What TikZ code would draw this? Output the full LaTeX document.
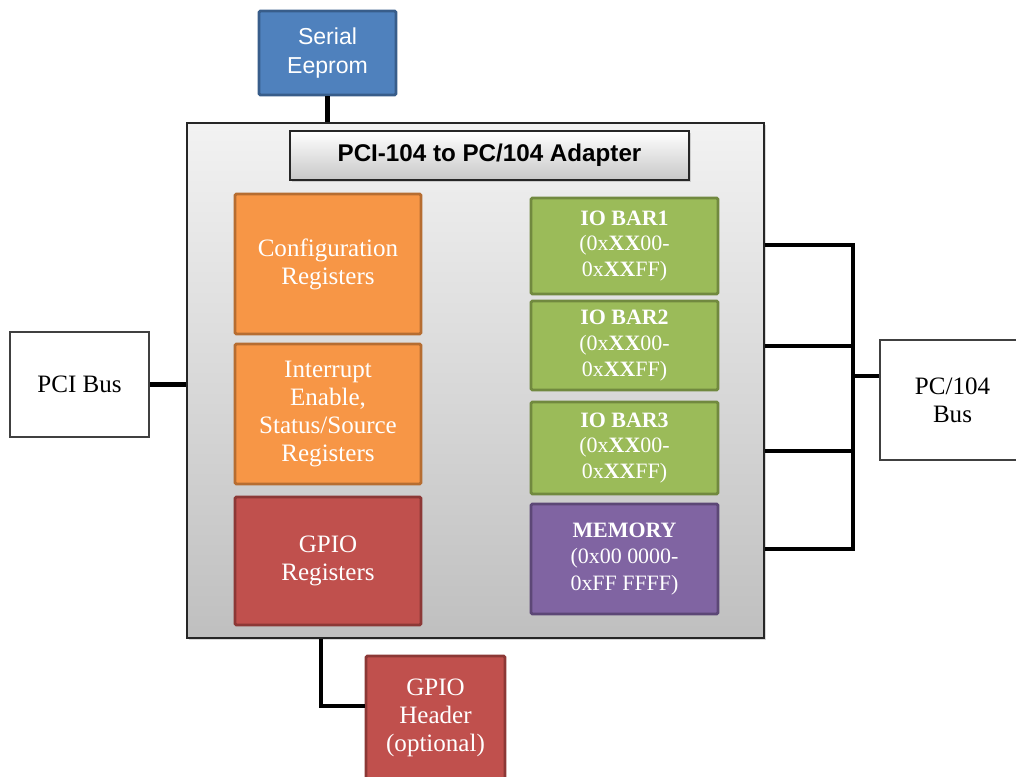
\documentclass[tikz,border=0pt]{standalone}
\usepackage{fontspec}
\setmainfont{Liberation Serif}
\setsansfont{Liberation Sans}
\usetikzlibrary{shadows}
\definecolor{eepromblue}{HTML}{4F81BD}
\definecolor{eepromline}{HTML}{385D8A}
\definecolor{regorange}{HTML}{F79646}
\definecolor{regorangeline}{HTML}{B66D31}
\definecolor{gpiored}{HTML}{C0504D}
\definecolor{gpioredline}{HTML}{8C3836}
\definecolor{bargreen}{HTML}{9BBB59}
\definecolor{bargreenline}{HTML}{71893F}
\definecolor{mempurple}{HTML}{8064A2}
\definecolor{mempurpleline}{HTML}{5C4776}
\definecolor{busline}{HTML}{404040}
\begin{document}
\begin{tikzpicture}[x=0.025cm,y=-0.025cm,
  block/.style={draw,line width=2pt,rounded corners=1pt,text=white,align=center,
    font=\fontsize{17.8}{20}\selectfont},
  orangebox/.style={block,fill=regorange,draw=regorangeline,minimum width=4.65cm},
  redbox/.style={block,fill=gpiored,draw=gpioredline,minimum width=4.65cm},
  greenbox/.style={block,fill=bargreen,draw=bargreenline,minimum width=4.675cm,
    font=\fontsize{15.6}{18.2}\selectfont},
  purplebox/.style={block,fill=mempurple,draw=mempurpleline,minimum width=4.675cm,
    font=\fontsize{15.6}{18.8}\selectfont},
  busbox/.style={draw=busline,line width=2pt,fill=white,align=center,
    font=\fontsize{17.8}{20}\selectfont},
  wire/.style={line width=3.5pt}]
\useasboundingbox (0,0) rectangle (1016,776);
\node[draw=black!85,line width=1pt,top color=black!5,bottom color=black!25,
  drop shadow={shadow xshift=1.5pt,shadow yshift=-1.5pt,opacity=0.3},
  minimum width=14.425cm,minimum height=12.875cm] (adapter) at (475.5,380.5) {};
\node[draw=black!85,line width=1pt,top color=white,bottom color=black!22,
  drop shadow={shadow xshift=1.5pt,shadow yshift=-1.5pt,opacity=0.3},
  minimum width=9.975cm,minimum height=1.225cm,
  font=\sffamily\bfseries\fontsize{17.2}{19}\selectfont] (title) at (489.5,155.5) {PCI-104 to PC/104 Adapter};
\node[block,fill=eepromblue,draw=eepromline,minimum width=3.425cm,minimum height=2.1cm,
  font=\sffamily\fontsize{16.4}{20.6}\selectfont] (eeprom) at (327.5,53) {Serial\\Eeprom};
\node[orangebox,minimum height=3.5cm] (config) at (328,264) {Configuration\\Registers};
\node[orangebox,minimum height=3.5cm] (irq) at (328,414) {Interrupt\\Enable,\\Status/Source\\Registers};
\node[redbox,minimum height=3.2cm] (gpioreg) at (328,561) {GPIO\\Registers};
\node[greenbox,minimum height=2.4cm] (bar1) at (624.5,246) {\textbf{IO BAR1}\\(0x\textbf{XX}00-\\0x\textbf{XX}FF)};
\node[greenbox,minimum height=2.225cm] (bar2) at (624.5,345.5) {\textbf{IO BAR2}\\(0x\textbf{XX}00-\\0x\textbf{XX}FF)};
\node[greenbox,minimum height=2.3cm] (bar3) at (624.5,448) {\textbf{IO BAR3}\\(0x\textbf{XX}00-\\0x\textbf{XX}FF)};
\node[purplebox,minimum height=2.75cm] (memory) at (624.5,559) {\textbf{MEMORY}\\(0x00 0000-\\0xFF FFFF)};
\node[busbox,minimum width=3.475cm,minimum height=2.625cm] (pcibus) at (79.5,384.5) {PCI Bus};
\node[busbox,minimum width=3.625cm,minimum height=3cm] (pcbus) at (952.5,400) {PC/104\\Bus};
\node[redbox,minimum width=3.475cm,minimum height=3.1cm] (gpiohdr) at (435.5,718) {GPIO\\Header\\(optional)};
\coordinate (hook1) at (853,245);
\coordinate (hook2) at (853,346);
\coordinate (hook3) at (853,451);
\coordinate (hook4) at (853,549);
\coordinate (busjoin) at (853,376);
\coordinate (bend) at (321,706);
\draw[wire] (eeprom.south) -- (eeprom.south |- adapter.north);
\draw[wire] (pcibus.east) -- (pcibus.east -| adapter.west);
\draw[wire] (hook1 -| adapter.east) -- (hook1) -- (hook4) -- (hook4 -| adapter.east);
\draw[wire] (hook2 -| adapter.east) -- (hook2);
\draw[wire] (hook3 -| adapter.east) -- (hook3);
\draw[wire] (busjoin) -- (busjoin -| pcbus.west);
\draw[wire] (bend |- adapter.south) -- (bend) -- (bend -| gpiohdr.west);
\end{tikzpicture}
\end{document}
